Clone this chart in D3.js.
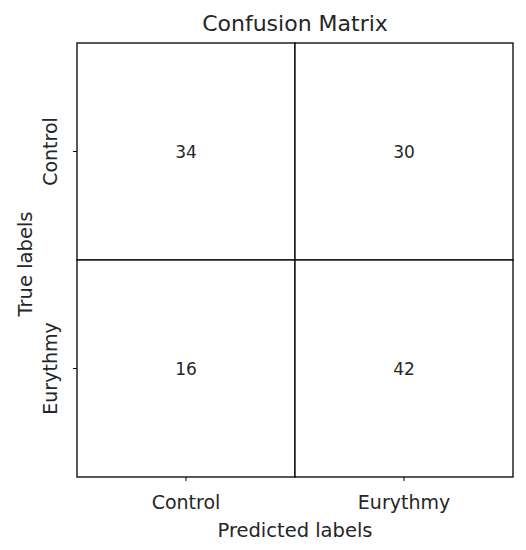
<!DOCTYPE html>
<html>
<head>
<meta charset="utf-8">
<script src="https://cdn.jsdelivr.net/npm/d3@7"></script>
<style>
  body { margin: 0; background: #fff; }
  text { font-family: "DejaVu Sans", sans-serif; fill: #262626; }
</style>
</head>
<body>
<div id="chart"></div>
<script>
let predictedLabels = ["Control", "Eurythmy"];
let trueLabels = ["Control", "Eurythmy"];
// rows = true label, cols = predicted label
let counts = [
  [34, 30],
  [16, 42]
];

let width = 526, height = 550;
let margin = { top: 43, bottom: 73, left: 77, right: 13 };

let svg = d3.select("#chart")
            .append("svg")
            .attr("width", width)
            .attr("height", height)

let xscale = d3.scaleBand()
               .domain(predictedLabels)
               .range([margin.left, width - margin.right])

let yscale = d3.scaleBand()
               .domain(trueLabels)
               .range([margin.top, height - margin.bottom])

let cells = [];
trueLabels.forEach((t, i) => {
  predictedLabels.forEach((p, j) => {
    cells.push({ t: t, p: p, v: counts[i][j] });
  });
});

svg.selectAll("rect.cell")
   .data(cells)
   .enter()
   .append("rect")
   .attr("class", "cell")
   .attr("x", d => xscale(d.p))
   .attr("y", d => yscale(d.t))
   .attr("width", xscale.bandwidth())
   .attr("height", yscale.bandwidth())
   .attr("fill", "#fff")
   .attr("stroke", "#000")
   .attr("stroke-width", 1.3)

svg.selectAll("text.val")
   .data(cells)
   .enter()
   .append("text")
   .attr("class", "val")
   .attr("x", d => xscale(d.p) + xscale.bandwidth() / 2)
   .attr("y", d => yscale(d.t) + yscale.bandwidth() / 2)
   .attr("text-anchor", "middle")
   .attr("dominant-baseline", "central")
   .attr("font-size", "17px")
   .text(d => d.v)

let xaxis = svg.append("g")
               .attr("transform", `translate(0,${height - margin.bottom})`)
               .call(d3.axisBottom(xscale).tickSize(4))
xaxis.select(".domain").remove()
xaxis.selectAll("text")
     .attr("font-size", "19px")
     .attr("font-family", "DejaVu Sans")
     .attr("fill", "#262626")
     .attr("dy", null)
     .attr("y", 32)

let yaxis = svg.append("g")
               .attr("transform", `translate(${margin.left},0)`)
               .call(d3.axisLeft(yscale).tickSize(4))
yaxis.select(".domain").remove()
yaxis.selectAll("text")
     .attr("font-size", "19px")
     .attr("font-family", "DejaVu Sans")
     .attr("fill", "#262626")
     .attr("text-anchor", "middle")
     .attr("x", null)
     .attr("dy", null)
     .attr("transform", "translate(-20,0) rotate(-90)")

svg.append("text")
   .text("Confusion Matrix")
   .attr("x", (margin.left + width - margin.right) / 2)
   .attr("y", 31)
   .attr("text-anchor", "middle")
   .attr("font-size", "22px")

svg.append("text")
   .text("Predicted labels")
   .attr("x", (margin.left + width - margin.right) / 2)
   .attr("y", 537)
   .attr("text-anchor", "middle")
   .attr("font-size", "19.5px")

svg.append("text")
   .text("True labels")
   .attr("transform", `translate(32,${(margin.top + height - margin.bottom) / 2 + 4}) rotate(-90)`)
   .attr("text-anchor", "middle")
   .attr("font-size", "19.5px")
</script>
</body>
</html>
